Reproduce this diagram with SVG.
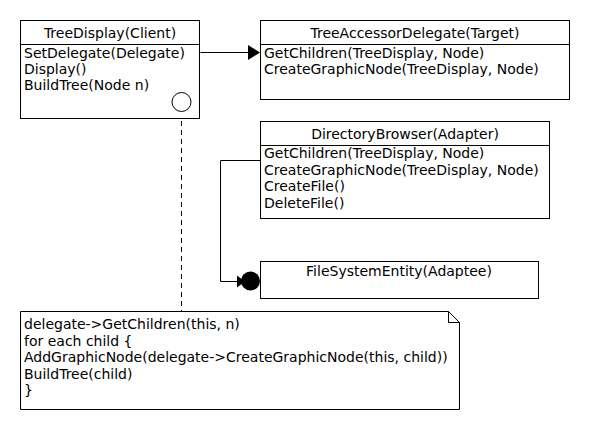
<svg xmlns="http://www.w3.org/2000/svg" width="590" height="430" viewBox="0 0 590 430">
<style>
.box{fill:#fff;stroke:#000;stroke-width:1}
.ln{fill:none;stroke:#000;stroke-width:1}
text{font-family:"DejaVu Sans",sans-serif;font-size:14px;fill:#000}
.t{text-anchor:middle}
</style>
<rect width="590" height="430" fill="#fff"/>
<g id="connectors">
<polyline class="ln" points="200.5,52.5 249,52.5"/>
<polygon points="248,45 260,52.5 248,60" fill="#000"/>
<polyline class="ln" points="260,160.5 220.5,160.5 220.5,281.5 240,281.5"/>
<polygon points="237,275.5 237,287.5 245,281.5" fill="#000"/>
<circle cx="250.5" cy="281" r="9.5" fill="#000"/>
<line class="ln" x1="181.5" y1="112" x2="181.5" y2="311" stroke-dasharray="5,4"/>
</g>
<g id="TreeDisplay">
<rect class="box" x="20.5" y="20.5" width="179" height="98"/>
<line class="ln" x1="20.5" y1="44.5" x2="199.5" y2="44.5"/>
<text class="t" x="110" y="38">TreeDisplay(Client)</text>
<text x="24" y="58">SetDelegate(Delegate)</text>
<text x="24" y="74">Display()</text>
<text x="24" y="90">BuildTree(Node n)</text>
<circle class="box" cx="181.5" cy="102" r="9.5"/>
</g>
<g id="TreeAccessorDelegate">
<rect class="box" x="260.5" y="20.5" width="309" height="79"/>
<line class="ln" x1="260.5" y1="44.5" x2="569.5" y2="44.5"/>
<text class="t" x="415" y="38">TreeAccessorDelegate(Target)</text>
<text x="264" y="58">GetChildren(TreeDisplay, Node)</text>
<text x="264" y="74">CreateGraphicNode(TreeDisplay, Node)</text>
</g>
<g id="DirectoryBrowser">
<rect class="box" x="260.5" y="121.5" width="289" height="97"/>
<line class="ln" x1="260.5" y1="145.5" x2="549.5" y2="145.5"/>
<text class="t" x="405" y="139">DirectoryBrowser(Adapter)</text>
<text x="264" y="158">GetChildren(TreeDisplay, Node)</text>
<text x="264" y="175">CreateGraphicNode(TreeDisplay, Node)</text>
<text x="264" y="191">CreateFile()</text>
<text x="264" y="208">DeleteFile()</text>
</g>
<g id="FileSystemEntity">
<rect class="box" x="260.5" y="261.5" width="278" height="37"/>
<text class="t" x="399" y="276">FileSystemEntity(Adaptee)</text>
</g>
<g id="note">
<path class="box" d="M20.5,311.5 H448.5 L459.5,322.5 V409.5 H20.5 Z"/>
<path class="ln" d="M448.5,311.5 V322.5 H459.5"/>
<text x="24" y="329">delegate-&gt;GetChildren(this, n)</text>
<text x="24" y="346">for each child {</text>
<text x="24" y="362">AddGraphicNode(delegate-&gt;CreateGraphicNode(this, child))</text>
<text x="24" y="379">BuildTree(child)</text>
<text x="24" y="395">}</text>
</g>
</svg>
